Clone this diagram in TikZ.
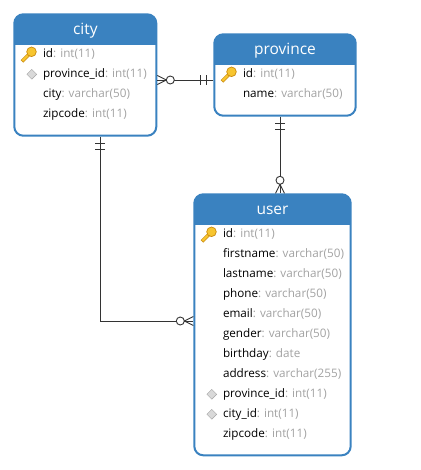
\documentclass[tikz,border=0pt]{standalone}
\usepackage{fontspec}
\setmainfont{Open Sans}
\usetikzlibrary{positioning,shapes.geometric,decorations.markings}

\definecolor{headblue}{HTML}{3A82C0}
\definecolor{typegray}{HTML}{A3A3A3}
\definecolor{linedark}{HTML}{333333}
\definecolor{keygold}{HTML}{F7C52F}
\definecolor{keyedge}{HTML}{C98A10}
\newcommand{\ftype}[1]{\textcolor{typegray}{: #1}}

\begin{document}
\begin{tikzpicture}[
    x=1pt, y=-1pt,
    entity/.style={draw=headblue, line width=2pt, fill=white, rounded corners=9pt, anchor=north west,
      path picture={\fill[headblue, sharp corners] (path picture bounding box.north west) rectangle ([yshift=-30.4pt]path picture bounding box.north east);}},
    headtext/.style={text=white, font=\fontsize{15.5}{17}\selectfont, minimum height=34pt, inner sep=0pt, outer sep=0pt},
    fieldrow/.style={anchor=north west, minimum height=20pt, text height=9pt, text depth=2pt, inner sep=0pt, outer sep=0pt, font=\fontsize{11.7}{14}\selectfont},
    nextrow/.style={fieldrow, below=0pt of #1.south west, anchor=north west},
    fkmark/.style={draw=gray!70, fill=gray!30, diamond, minimum size=10pt, inner sep=0pt},
    keyicon/.pic={
      \draw[keyedge, line width=3.6pt] (2,-2) -- (-7,7);
      \draw[keygold, line width=2.2pt] (2,-2) -- (-6.5,6.5);
      \draw[keyedge, fill=keygold, line width=.7pt] (2.5,-2.5) circle (4.8);
    },
    relation/.style={draw=linedark, line width=.9pt, postaction={decorate},
      decoration={markings,
        mark=at position 7pt with {\draw[linedark, line width=.9pt] (0,-5) -- (0,5);},
        mark=at position 13pt with {\draw[linedark, line width=.9pt] (0,-5) -- (0,5);},
        mark=at position -13pt with {
          \draw[linedark, line width=.9pt, fill=white] (0,0) circle (4);
          \draw[linedark, line width=.9pt] (4,0) -- (13,4.5);
          \draw[linedark, line width=.9pt] (4,0) -- (13,-4.5);
        }}},
  ]
  \useasboundingbox (0,0) rectangle (420,470);

  % tables
  \node[entity, minimum width=142pt, minimum height=121.4pt] (city) at (13.3,13.3) {};
  \node[entity, minimum width=141.4pt, minimum height=81.4pt] (province) at (213.3,33.3) {};
  \node[entity, minimum width=156.4pt, minimum height=261pt] (user) at (193.3,193.3) {};

  \node[headtext, below=0pt of city.north] (cityhead) {city};
  \node[headtext, below=0pt of province.north] (provincehead) {province};
  \node[headtext, below=0pt of user.north] (userhead) {user};

  % city
  \node[fieldrow] (cityid) at ([xshift=29.7pt,yshift=-31pt]city.north west) {id\ftype{int(11)}};
  \node[nextrow=cityid] (citypid) {province\_id\ftype{int(11)}};
  \node[nextrow=citypid] (cityname) {city\ftype{varchar(50)}};
  \node[nextrow=cityname] (cityzip) {zipcode\ftype{int(11)}};
  \pic at ([xshift=-14pt]cityid.west) {keyicon};
  \node[fkmark, left=6pt of citypid] (citypidfk) {};

  % province
  \node[fieldrow] (provinceid) at ([xshift=29.7pt,yshift=-31pt]province.north west) {id\ftype{int(11)}};
  \node[nextrow=provinceid] (provincename) {name\ftype{varchar(50)}};
  \pic at ([xshift=-14pt]provinceid.west) {keyicon};

  % user
  \node[fieldrow] (userid) at ([xshift=29.7pt,yshift=-31pt]user.north west) {id\ftype{int(11)}};
  \node[nextrow=userid] (userfirst) {firstname\ftype{varchar(50)}};
  \node[nextrow=userfirst] (userlast) {lastname\ftype{varchar(50)}};
  \node[nextrow=userlast] (userphone) {phone\ftype{varchar(50)}};
  \node[nextrow=userphone] (useremail) {email\ftype{varchar(50)}};
  \node[nextrow=useremail] (usergender) {gender\ftype{varchar(50)}};
  \node[nextrow=usergender] (userbirth) {birthday\ftype{date}};
  \node[nextrow=userbirth] (useraddr) {address\ftype{varchar(255)}};
  \node[nextrow=useraddr] (userpid) {province\_id\ftype{int(11)}};
  \node[nextrow=userpid] (usercid) {city\_id\ftype{int(11)}};
  \node[nextrow=usercid] (userzip) {zipcode\ftype{int(11)}};
  \pic at ([xshift=-14pt]userid.west) {keyicon};
  \node[fkmark, left=6pt of userpid] (userpidfk) {};
  \node[fkmark, left=6pt of usercid] (usercidfk) {};

  % relations, one side first
  \draw[relation] ([yshift=-5pt]province.west) -- ([yshift=-5pt]city.east);
  \draw[relation] ([xshift=-5pt]province.south) -- ([xshift=7.5pt]user.north);
  \draw[relation] ([xshift=14.7pt]city.south) |- ([yshift=3.8pt]user.west);
\end{tikzpicture}
\end{document}
